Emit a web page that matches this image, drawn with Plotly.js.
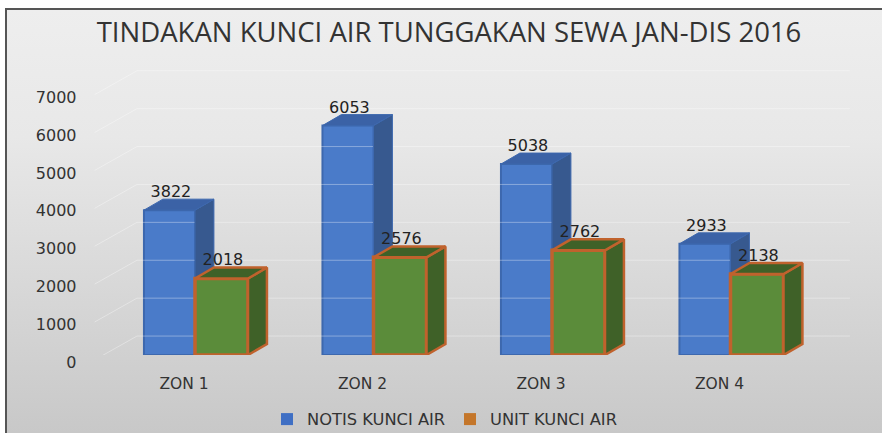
<!DOCTYPE html>
<html>
<head>
<meta charset="utf-8">
<script src="https://cdn.plot.ly/plotly-3.0.1.min.js"></script>
<style>
html,body{margin:0;padding:0;background:#fff;overflow:hidden;width:882px;height:433px}
#frame{position:absolute;left:5px;top:8px;width:877px;height:425px;border-left:2px solid #555;border-top:2px solid #555;box-sizing:border-box;background:linear-gradient(#eeeeee,#e8e8e8 30%,#c8c8c8)}
#clip{position:absolute;left:0;top:0;width:882px;height:433px;overflow:hidden}
#chart{position:absolute;left:0;top:0;width:882px;height:450px}
</style>
</head>
<body>
<div id="frame"></div>
<div id="clip"><div id="chart"></div></div>
<script>
const zones = ['ZON 1','ZON 2','ZON 3','ZON 4'];
const notis = [3822,6053,5038,2933];
const unit = [2018,2576,2762,2138];
const axisTicks = [0,1000,2000,3000,4000,5000,6000,7000];
const titleText = 'TINDAKAN KUNCI AIR TUNGGAKAN SEWA JAN-DIS 2016';
const W = 882, H = 450;

// depth of the 3D effect, in axis units
const depthX = 0.106, depthY = 290;
const wallY = 500;
const widthA = 0.286, widthB = 0.297;

function faces(vals, left, width) {
  const side = {x:[],y:[]}, top = {x:[],y:[]};
  vals.forEach((v,i)=>{
    const a = i+left, b = a+width;
    side.x.push(b,b+depthX,b+depthX,b,b,null);
    side.y.push(0,depthY,v+depthY,v,0,null);
    top.x.push(a,a+depthX,b+depthX,b,a,null);
    top.y.push(v,v+depthY,v+depthY,v,v,null);
  });
  return {side,top};
}
function poly(f, color, line, lw, ya) {
  return {type:'scatter',mode:'lines',x:f.x,y:f.y,xaxis:'x2',yaxis:ya,fill:'toself',fillcolor:color,
    line:{color:line,width:lw},hoverinfo:'skip',showlegend:false};
}
const fa = faces(notis,-widthA,widthA), fb = faces(unit,0,widthB);

const grid = {x:[],y:[]};
axisTicks.forEach(v=>{grid.x.push(-0.5625,-0.325,3.669,null);grid.y.push(v-130,v+wallY,v+wallY,null);});

const blueFront='#4a7bc9', blueEdge='#3d68ae', blueSide='#37598f', blueTop='#3b62a6';
const greenFront='#5b8c3a', orange='#c0622d', greenSide='#3f6128';

const data = [
  {type:'scatter',mode:'lines',x:grid.x,y:grid.y,xaxis:'x2',yaxis:'y2',line:{color:'rgba(255,255,255,0.35)',width:1},hoverinfo:'skip',showlegend:false},
  {type:'bar',name:'NOTIS KUNCI AIR',x:[0,1,2,3],y:notis,xaxis:'x2',yaxis:'y2',offset:-widthA,width:widthA,
    marker:{color:blueFront,line:{color:blueEdge,width:2}},showlegend:false},
  poly(fa.side,blueSide,blueEdge,1,'y2'),
  poly(fa.top,blueTop,blueEdge,1,'y2'),
  {type:'bar',name:'UNIT KUNCI AIR',x:[0,1,2,3],y:unit,xaxis:'x2',yaxis:'y3',offset:0,width:widthB,
    marker:{color:greenFront,line:{color:orange,width:3.5}},showlegend:false},
  poly(fb.side,greenSide,orange,2.5,'y3'),
  poly(fb.top,greenSide,orange,2.5,'y3'),
  {type:'scatter',mode:'text',x:[0,1,2,3].map(i=>i-widthA/2+0.008),y:notis.map(v=>v+450),text:notis.map(String),xaxis:'x2',yaxis:'y3',
    textfont:{family:'DejaVu Sans',size:16,color:'#222'},hoverinfo:'skip',showlegend:false},
  {type:'scatter',mode:'text',x:[0,1,2,3].map(i=>i+widthB/2+0.008),y:unit.map(v=>v+450),text:unit.map(String),xaxis:'x2',yaxis:'y3',
    textfont:{family:'DejaVu Sans',size:16,color:'#222'},hoverinfo:'skip',showlegend:false},
  {type:'bar',name:'NOTIS KUNCI AIR',x:[null],y:[null],marker:{color:'#3f6fc4'},legend:'legend'},
  {type:'bar',name:'UNIT KUNCI AIR',x:[null],y:[null],marker:{color:'#c4762a'},legend:'legend2'}
];
const lf = {family:'DejaVu Sans',size:16.3,color:'#333'};
const layout = {
  width:W,height:H,margin:{l:0,r:0,t:0,b:0},
  paper_bgcolor:'rgba(0,0,0,0)',plot_bgcolor:'rgba(0,0,0,0)',
  barmode:'overlay',showlegend:true,
  title:{text:titleText,x:449/W,xanchor:'center',y:1-32/H,yanchor:'middle',font:{family:'Open Sans',size:27.5,color:'#333'}},
  xaxis:{domain:[94.75/W,808.75/W],range:[-0.5,3.5],tickmode:'array',tickvals:[0,1,2,3],ticktext:zones,showgrid:false,zeroline:false,showline:false,
    ticks:'outside',ticklen:7,tickcolor:'rgba(0,0,0,0)',tickfont:{family:'DejaVu Sans',size:15.5,color:'#333'},anchor:'y'},
  yaxis:{domain:[1-362/H,1-97.3/H],range:[0,7000],tickmode:'array',tickvals:axisTicks,showgrid:false,zeroline:false,showline:false,
    ticks:'outside',ticklen:14,tickcolor:'rgba(0,0,0,0)',tickfont:{family:'DejaVu Sans',size:16,color:'#333'},anchor:'x'},
  xaxis2:{domain:[87.9/W,873.3/W],range:[-0.6,3.8],visible:false,anchor:'y2'},
  yaxis2:{domain:[1-355/H,1-51.8/H],range:[0,8000],visible:false,anchor:'x2'},
  yaxis3:{domain:[1-355/H,1-51.8/H],range:[0,8000],visible:false,anchor:'x2',overlaying:'y2'},
  legend:{x:267/W,y:1-419.5/H,xanchor:'left',yanchor:'middle',font:lf,bgcolor:'rgba(0,0,0,0)'},
  legend2:{x:450/W,y:1-419.5/H,xanchor:'left',yanchor:'middle',font:lf,bgcolor:'rgba(0,0,0,0)'}
};
Plotly.newPlot('chart',data,layout,{displayModeBar:false,staticPlot:true});
</script>
</body>
</html>
